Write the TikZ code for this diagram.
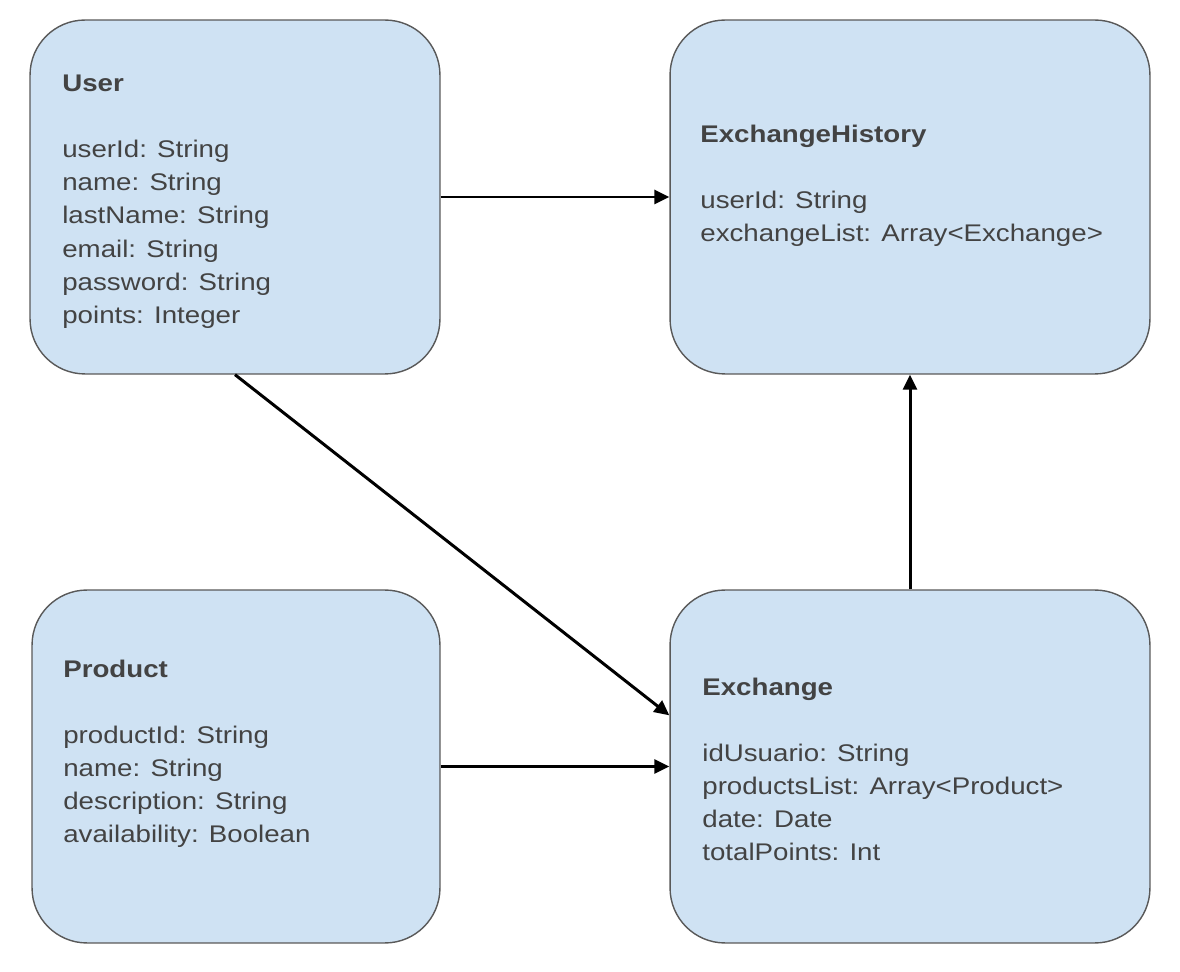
\documentclass[tikz,border=0pt]{standalone}
\usepackage{fontspec}
\setmainfont{Liberation Sans}[FakeStretch=1.15]
\usetikzlibrary{arrows.meta}

\definecolor{boxfill}{HTML}{CFE2F3}
\definecolor{boxline}{HTML}{595959}
\definecolor{txt}{HTML}{434343}

\tikzset{
    entity/.style = {draw = boxline, line width = 0.8pt, fill = boxfill,
        rounded corners = 1.1cm, inner sep = 0pt},
    fields/.style = {anchor = north west, align = left, inner sep = 0pt,
        text = txt, font = \fontsize{13.7pt}{18.8pt}\selectfont},
    link/.style = {line width = 1.7pt, -{Triangle[length = 0.3cm, width = 0.28cm]}}
}

\begin{document}
\begin{tikzpicture}[x = 0.02cm, y = -0.02cm]
    \useasboundingbox (0, 0) rectangle (1180, 972);

    % oben
    \node [entity, minimum width = 8.2cm, minimum height = 7.08cm] (user) at (235, 197) {};
    \node [fields] (usertext) at (62, 75) {\textbf{User}\\[0.66cm]
        userId: String\\ name: String\\ lastName: String\\
        email: String\\ password: String\\ points: Integer};

    \node [entity, minimum width = 9.6cm, minimum height = 7.08cm] (history) at (910, 197) {};
    \node [fields] (historytext) at (700, 125) {\textbf{ExchangeHistory}\\[0.66cm]
        userId: String\\ exchangeList: Array<Exchange>};

    % unten
    \node [entity, minimum width = 8.16cm, minimum height = 7.06cm] (product) at (236, 766.5) {};
    \node [fields] (producttext) at (63, 660) {\textbf{Product}\\[0.66cm]
        productId: String\\ name: String\\ description: String\\
        availability: Boolean};

    \node [entity, minimum width = 9.6cm, minimum height = 7.06cm] (exchange) at (910, 766.5) {};
    \node [fields] (exchangetext) at (702, 678) {\textbf{Exchange}\\[0.66cm]
        idUsuario: String\\ productsList: Array<Product>\\ date: Date\\
        totalPoints: Int};

    % Pfeile
    \draw [link] (user.east) -- (history.west);
    \draw [link] (user.south) -- (exchange.168);
    \draw [link] (product.east) -- (product.east -| exchange.west);
    \draw [link] (exchange.north) -- (history.south);
\end{tikzpicture}
\end{document}
